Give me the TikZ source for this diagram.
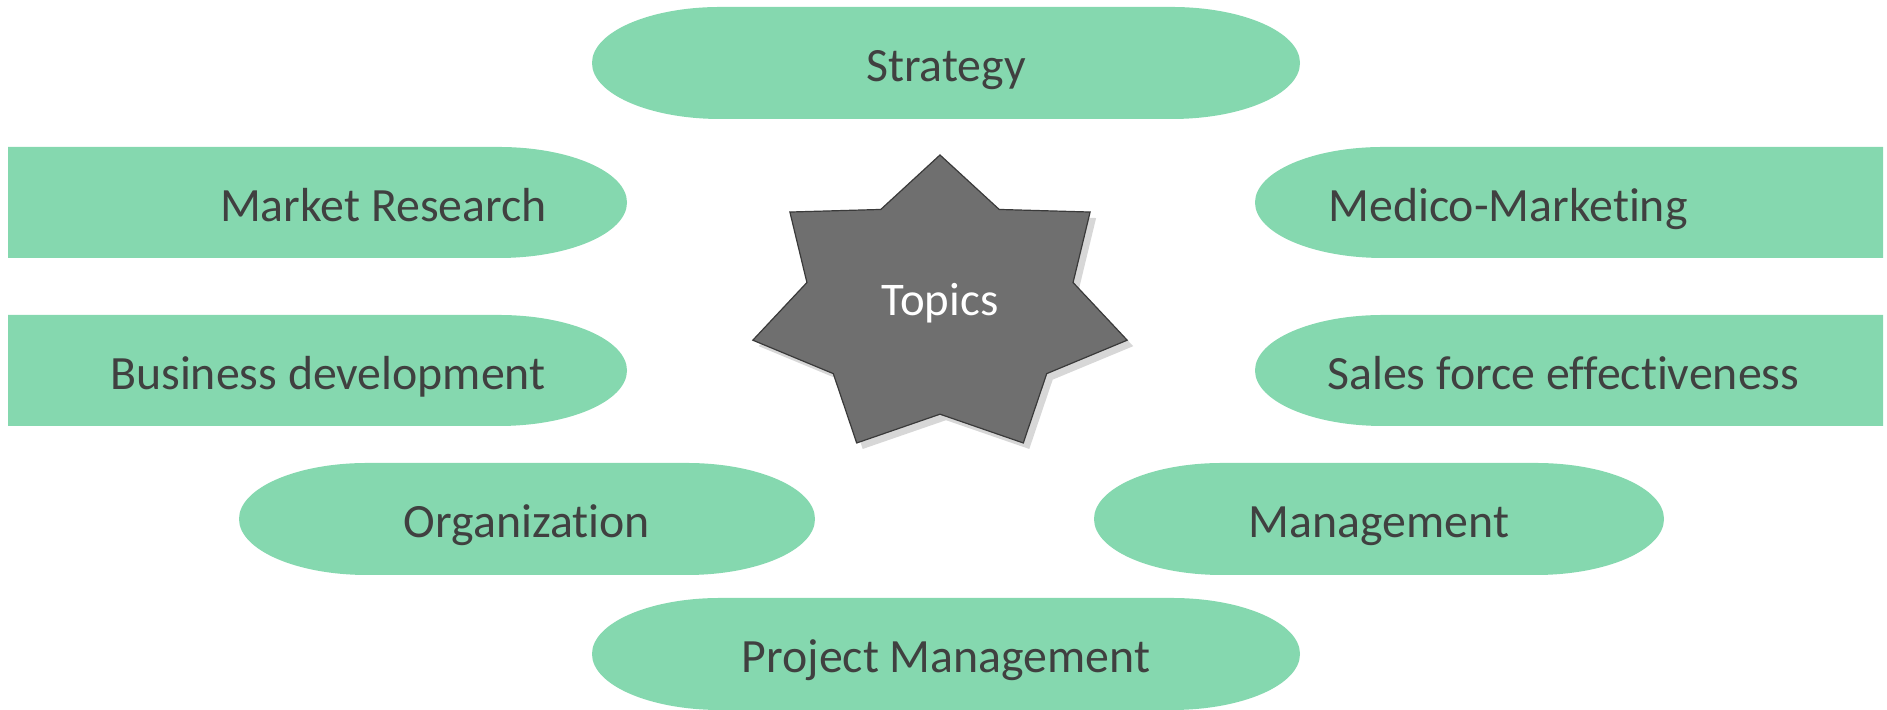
\documentclass[tikz,border=0pt]{standalone}
\usepackage{fontspec}
\setmainfont{Carlito}[Ligatures={NoCommon}]
\definecolor{pillgreen}{RGB}{133,216,175}
\definecolor{textgray}{RGB}{64,64,64}
\definecolor{starfill}{RGB}{111,111,111}
\definecolor{starline}{RGB}{58,58,58}
\definecolor{shadowgray}{RGB}{215,215,215}
\newcommand\pillBoth[4]{% x1, x2, y1, y2
  \fill[pill] ({#1+128},#3) -- ({#2-128},#3)
    arc[start angle=-90,end angle=90,x radius=128,y radius={(#4-#3)/2}]
    -- ({#1+128},#4)
    arc[start angle=90,end angle=270,x radius=128,y radius={(#4-#3)/2}] -- cycle;}
\newcommand\pillRight[4]{% straight left, cap right
  \fill[pill] (#1,#3) -- ({#2-128},#3)
    arc[start angle=-90,end angle=90,x radius=128,y radius={(#4-#3)/2}]
    -- (#1,#4) -- cycle;}
\newcommand\pillLeft[4]{% cap left, straight right
  \fill[pill] ({#1+128},#3) -- (#2,#3) -- (#2,#4) -- ({#1+128},#4)
    arc[start angle=90,end angle=270,x radius=128,y radius={(#4-#3)/2}] -- cycle;}
\begin{document}
\begin{tikzpicture}[x=0.5pt,y=0.5pt,
  pill/.style={fill=pillgreen,draw=none},
  lbl/.style={text=textgray,font=\fontsize{23.9}{28}\selectfont,inner sep=0pt},
  toplbl/.style={text=white,font=\fontsize{23.4}{28}\selectfont,inner sep=0pt},
  starshape/.style={fill=starfill,draw=starline,line width=0.6pt,line join=miter},
  starshadow/.style={fill=shadowgray,draw=none}]
\useasboundingbox (0,0) rectangle (1887,710);
% pills
\pillBoth{592}{1300}{591}{703}
\pillRight{8}{627}{452}{563}
\pillRight{8}{627}{284}{395}
\pillBoth{239}{815}{135}{247}
\pillBoth{592}{1300}{0}{112}
\pillLeft{1255}{1883}{452}{563}
\pillLeft{1255}{1883}{284}{395}
\pillBoth{1094}{1664}{135}{247}
% labels
\node[lbl,anchor=base] (strategy) at (946,628) {Strategy};
\node[lbl,anchor=base east] (market) at (547,488.5) {Market Research};
\node[lbl,anchor=base east] (busdev) at (546,320.5) {Business development};
\node[lbl,anchor=base] (org) at (527,172) {Organization};
\node[lbl,anchor=base] (project) at (946,37) {Project Management};
\node[lbl,anchor=base west] (medico) at (1328,488.5) {Medico-Marketing};
\node[lbl,anchor=base west] (sales) at (1327,320.5) {Sales force effectiveness};
\node[lbl,anchor=base] (mgmt) at (1379,172) {Management};
% star
\fill[starshadow,shift={(6,-6)}] plot[samples at={0,...,13}]
  ({940+(mod(\x,2)==0?192:136.5)*cos(90+\x*180/7)},
   {403.5+(mod(\x,2)==0?151.5:107.7)*sin(90+\x*180/7)}) -- cycle;
\draw[starshape] plot[samples at={0,...,13}]
  ({940+(mod(\x,2)==0?192:136.5)*cos(90+\x*180/7)},
   {403.5+(mod(\x,2)==0?151.5:107.7)*sin(90+\x*180/7)}) -- cycle;
\node[toplbl,anchor=base] (topics) at (940,394) {Topics};
\end{tikzpicture}
\end{document}
